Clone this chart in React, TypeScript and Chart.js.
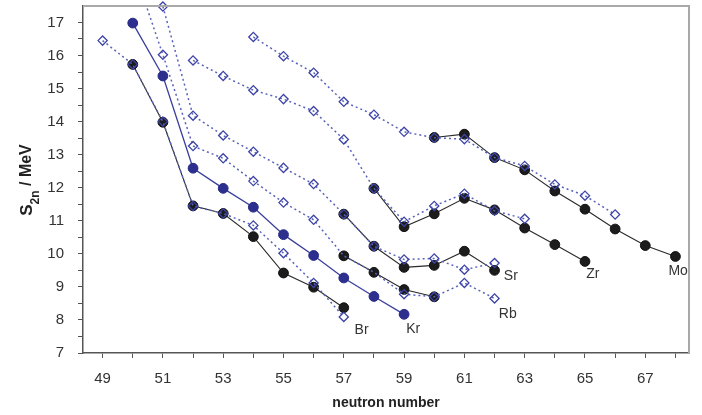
import React, { useEffect, useRef } from 'react';
import { Chart, registerables } from 'chart.js';

Chart.register(...registerables);

// ---- axis ticks ----
const xTickValues = [49, 50, 51, 52, 53, 54, 55, 56, 57, 58, 59, 60, 61, 62, 63, 64, 65, 66, 67, 68];
const yTickValues = [7, 7.5, 8, 8.5, 9, 9.5, 10, 10.5, 11, 11.5, 12, 12.5, 13, 13.5, 14, 14.5, 15, 15.5, 16, 16.5, 17];

// ---- experimental S2n (filled circles) ----
const brN = [50, 51, 52, 53, 54, 55, 56, 57];
const brS = [15.73, 13.98, 11.45, 11.22, 10.52, 9.42, 8.99, 8.37];
const krN = [50, 51, 52, 53, 54, 55, 56, 57, 58, 59];
const krS = [16.98, 15.38, 12.59, 11.98, 11.41, 10.58, 9.95, 9.27, 8.71, 8.17];
const rbN = [57, 58, 59, 60];
const rbS = [9.94, 9.44, 8.92, 8.7];
const srN = [57, 58, 59, 60, 61, 62];
const srS = [11.2, 10.23, 9.59, 9.65, 10.08, 9.5];
const zrN = [58, 59, 60, 61, 62, 63, 64, 65];
const zrS = [11.98, 10.82, 11.21, 11.68, 11.33, 10.78, 10.28, 9.77];
const moN = [60, 61, 62, 63, 64, 65, 66, 67, 68];
const moS = [13.52, 13.62, 12.91, 12.54, 11.9, 11.35, 10.75, 10.25, 9.92];

// ---- evaluated S2n (open diamonds, dotted) ----
const brEvN = [49, 50, 51, 52, 53, 54, 55, 56, 57];
const brEvS = [16.45, 15.73, 14.0, 11.45, 11.22, 10.86, 10.02, 9.12, 8.09];
const rbEvN = [50, 51, 52, 53, 54, 55, 56, 57, 58, 59, 60, 61, 62];
const rbEvS = [18.71, 16.02, 13.26, 12.89, 12.2, 11.55, 11.03, 9.94, 9.44, 8.78, 8.7, 9.12, 8.65];
const srEvN = [51, 52, 53, 54, 55, 56, 57, 58, 59, 60, 61, 62];
const srEvS = [17.48, 14.18, 13.58, 13.09, 12.6, 12.11, 11.2, 10.23, 9.83, 9.86, 9.52, 9.72];
const zrEvN = [52, 53, 54, 55, 56, 57, 58, 59, 60, 61, 62, 63];
const zrEvS = [15.85, 15.38, 14.95, 14.68, 14.32, 13.46, 11.98, 10.97, 11.45, 11.82, 11.3, 11.06];
const moEvN = [54, 55, 56, 57, 58, 59, 60, 61, 62, 63, 64, 65, 66];
const moEvS = [16.56, 15.98, 15.48, 14.6, 14.21, 13.69, 13.51, 13.47, 12.91, 12.66, 12.1, 11.76, 11.19];

// ---- element labels (data coordinates) ----
const tagText = ['Br', 'Kr', 'Rb', 'Sr', 'Zr', 'Mo'];
const tagN = [57.59, 59.3, 62.44, 62.54, 65.26, 68.09];
const tagS = [7.68, 7.73, 8.18, 9.34, 9.39, 9.48];

const FONT = '"Liberation Sans", Arial, sans-serif';

const pts = (ns: number[], ss: number[]) => ns.map((n, i) => ({ x: n, y: ss[i] }));

const expBlack = (ns: number[], ss: number[]) => ({
  data: pts(ns, ss),
  borderColor: '#2a2a2a',
  borderWidth: 1.1,
  pointBackgroundColor: '#1c1c1c',
  pointBorderColor: '#111111',
  pointBorderWidth: 1,
  pointRadius: 4.9,
  pointStyle: 'circle',
  showLine: true,
  order: 2,
});

const evalDiamond = (ns: number[], ss: number[]) => ({
  data: pts(ns, ss),
  borderColor: '#5863bb',
  borderWidth: 1.5,
  borderDash: [2, 3],
  pointBackgroundColor: 'rgba(255,255,255,0)',
  pointBorderColor: '#3d44a6',
  pointBorderWidth: 1.3,
  pointRadius: 4.6,
  pointStyle: 'rectRot',
  showLine: true,
  order: 1,
  clip: { left: 0, top: 0, right: 0, bottom: 0 },
});

const decorPlugin = {
  id: 'decor',
  afterDraw(chart: any) {
    const { ctx, chartArea, scales } = chart;
    ctx.save();
    // frame top + right
    ctx.strokeStyle = '#a9a9a9';
    ctx.lineWidth = 2;
    ctx.beginPath();
    ctx.moveTo(chartArea.left, chartArea.top);
    ctx.lineTo(chartArea.right, chartArea.top);
    ctx.lineTo(chartArea.right, chartArea.bottom);
    ctx.stroke();

    // element labels
    ctx.fillStyle = '#333333';
    ctx.font = `14px ${FONT}`;
    ctx.textAlign = 'center';
    ctx.textBaseline = 'middle';
    tagText.forEach((t, i) => {
      ctx.fillText(t, scales.x.getPixelForValue(tagN[i]), scales.y.getPixelForValue(tagS[i]));
    });

    // x title
    ctx.fillStyle = '#222222';
    ctx.font = `bold 14px ${FONT}`;
    ctx.fillText('neutron number', (chartArea.left + chartArea.right) / 2, 403);

    // y title with subscript
    ctx.translate(32, 180);
    ctx.rotate(-Math.PI / 2);
    ctx.textAlign = 'left';
    ctx.textBaseline = 'alphabetic';
    const fMain = `bold 17px ${FONT}`;
    const fSub = `bold 12px ${FONT}`;
    const fTail = `bold 16px ${FONT}`;
    ctx.font = fMain;
    const wS = ctx.measureText('S').width;
    ctx.font = fSub;
    const wSub = ctx.measureText('2n').width;
    ctx.font = fTail;
    const wTail = ctx.measureText(' / MeV').width;
    let x0 = -(wS + wSub + wTail) / 2;
    ctx.font = fMain;
    ctx.fillText('S', x0, 0);
    x0 += wS;
    ctx.font = fSub;
    ctx.fillText('2n', x0, 7);
    x0 += wSub;
    ctx.font = fTail;
    ctx.fillText(' / MeV', x0, -1);
    ctx.restore();
  },
};

export default function App() {
  const ref = useRef<HTMLCanvasElement | null>(null);

  useEffect(() => {
    document.body.style.margin = '0';
    const canvas = ref.current;
    if (!canvas) return;
    const srEval: any = evalDiamond(srEvN, srEvS);
    srEval.clip = { left: 6, top: 6, right: 6, bottom: 6 };
    const rbEval: any = evalDiamond(rbEvN, rbEvS);
    // diamonds hidden under the measured Rb points
    rbEval.pointRadius = rbEvN.map((n) => (n === 57 || n === 58 ? 0 : 4.6));
    const chart = new Chart(canvas, {
      type: 'scatter',
      data: {
        datasets: [
          expBlack(brN, brS),
          {
            ...expBlack(krN, krS),
            borderColor: '#3a3f9c',
            borderWidth: 1.3,
            pointBackgroundColor: '#2c2f8e',
            pointBorderColor: '#262a85',
          },
          expBlack(rbN, rbS),
          expBlack(srN, srS),
          expBlack(zrN, zrS),
          expBlack(moN, moS),
          evalDiamond(brEvN, brEvS),
          rbEval,
          srEval,
          evalDiamond(zrEvN, zrEvS),
          evalDiamond(moEvN, moEvS),
        ] as any,
      },
      options: {
        responsive: false,
        animation: false,
        events: [],
        layout: { padding: { left: 0, right: 13, top: 3, bottom: 0 } },
        plugins: { legend: { display: false }, tooltip: { enabled: false } },
        scales: {
          x: {
            type: 'linear',
            min: 48.35,
            max: 68.45,
            afterBuildTicks: (s: any) => {
              s.ticks = xTickValues.map((v) => ({ value: v }));
            },
            afterFit: (s: any) => {
              s.height = 62;
              s.paddingLeft = 0;
              s.paddingRight = 0;
            },
            grid: { drawOnChartArea: false, drawTicks: true, tickLength: 5, color: '#555555', lineWidth: 1 },
            border: { color: '#555555', width: 1.5 },
            ticks: {
              autoSkip: false,
              maxRotation: 0,
              padding: 12,
              color: '#333333',
              font: { family: FONT, size: 15 },
              callback: (v: any) => (Math.round(v) % 2 === 1 ? String(v) : ''),
            },
          },
          y: {
            type: 'linear',
            min: 7,
            max: 17.5,
            afterBuildTicks: (s: any) => {
              s.ticks = yTickValues.map((v) => ({ value: v }));
            },
            afterFit: (s: any) => {
              s.width = 83;
              s.paddingTop = 0;
              s.paddingBottom = 0;
            },
            grid: { drawOnChartArea: false, drawTicks: true, tickLength: 5, color: '#555555', lineWidth: 1 },
            border: { color: '#555555', width: 1.5 },
            ticks: {
              autoSkip: false,
              padding: 14,
              color: '#333333',
              font: { family: FONT, size: 15 },
              callback: (v: any) => (Number.isInteger(v) ? String(v) : ''),
            },
          },
        },
      } as any,
      plugins: [decorPlugin],
    });
    return () => chart.destroy();
  }, []);

  return (
    <div style={{ width: 702, height: 415 }}>
      <canvas ref={ref} width={702} height={415} style={{ display: 'block' }} />
    </div>
  );
}
